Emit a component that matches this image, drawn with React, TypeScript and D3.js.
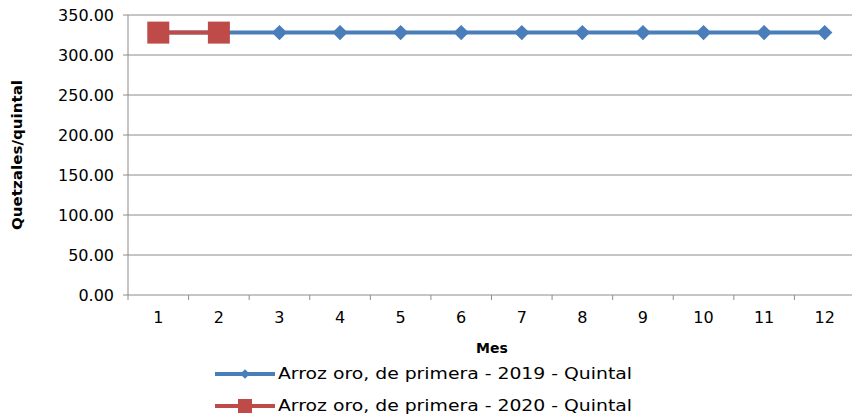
import * as d3 from "d3";

const months = ["1", "2", "3", "4", "5", "6", "7", "8", "9", "10", "11", "12"];
const values2019 = [328, 328, 328, 328, 328, 328, 328, 328, 328, 328, 328, 328];
const values2020 = [328, 328];
const yTicks = [0, 50, 100, 150, 200, 250, 300, 350];
const label2019 = "Arroz oro, de primera - 2019 - Quintal";
const label2020 = "Arroz oro, de primera - 2020 - Quintal";

const W = 852, H = 418;
const left = 128, right = 855, top = 15, bottom = 295;
const blue = "#4a7ebb", red = "#be4b48";
const font = "'DejaVu Sans', sans-serif";

export default function App() {
  const x = d3.scaleBand().domain(months).range([left, right]);
  const y = d3.scaleLinear().domain([0, 350]).range([bottom, top]);
  const cx = (i: number) => (x(months[i]) as number) + x.bandwidth() / 2;
  const line = d3.line<number>().x((_, i) => cx(i)).y((d) => y(d));
  const diamond = d3.symbol().type(d3.symbolDiamond2).size(150)()!;
  return (
    <svg width={W} height={H} style={{ position: "absolute", left: 0, top: 0 }} fontFamily={font}>
      {yTicks.map((t) => (
        <g key={t}>
          <line x1={left - 5} x2={right} y1={y(t)} y2={y(t)} stroke="#8c8c8c" strokeWidth={1} />
          <text x={left - 14} y={y(t) + 6} textAnchor="end" fontSize={16} fill="#000">{t.toFixed(2)}</text>
        </g>
      ))}
      <line x1={left} x2={left} y1={top} y2={bottom} stroke="#8c8c8c" />
      {months.map((m, i) => (
        <g key={m}>
          <line x1={x(m)!} x2={x(m)!} y1={bottom} y2={bottom + 5} stroke="#8c8c8c" />
          <text x={cx(i)} y={bottom + 28} textAnchor="middle" fontSize={16}>{m}</text>
        </g>
      ))}
      <text transform={`translate(22,${(top + bottom) / 2}) rotate(-90)`} textAnchor="middle" fontSize={14} fontWeight="bold" textLength={150} lengthAdjust="spacingAndGlyphs">Quetzales/quintal</text>
      <text x={492} y={353} textAnchor="middle" fontSize={14} fontWeight="bold">Mes</text>
      <path d={line(values2019)!} fill="none" stroke={blue} strokeWidth={4} />
      {values2019.map((v, i) => (
        <path key={i} d={diamond} transform={`translate(${cx(i)},${y(v)})`} fill={blue} />
      ))}
      <path d={line(values2020)!} fill="none" stroke={red} strokeWidth={4} />
      {values2020.map((v, i) => (
        <rect key={i} x={cx(i) - 11} y={y(v) - 11} width={22} height={22} fill={red} />
      ))}
      <line x1={215} x2={275} y1={374} y2={374} stroke={blue} strokeWidth={4} />
      <path d={d3.symbol().type(d3.symbolDiamond2).size(60)()!} transform="translate(245,374)" fill={blue} />
      <text x={278} y={379} fontSize={15} textLength={354} lengthAdjust="spacingAndGlyphs">{label2019}</text>
      <line x1={215} x2={275} y1={406} y2={406} stroke={red} strokeWidth={4} />
      <rect x={238} y={399} width={14} height={14} fill={red} />
      <text x={278} y={411} fontSize={15} textLength={354} lengthAdjust="spacingAndGlyphs">{label2020}</text>
    </svg>
  );
}
